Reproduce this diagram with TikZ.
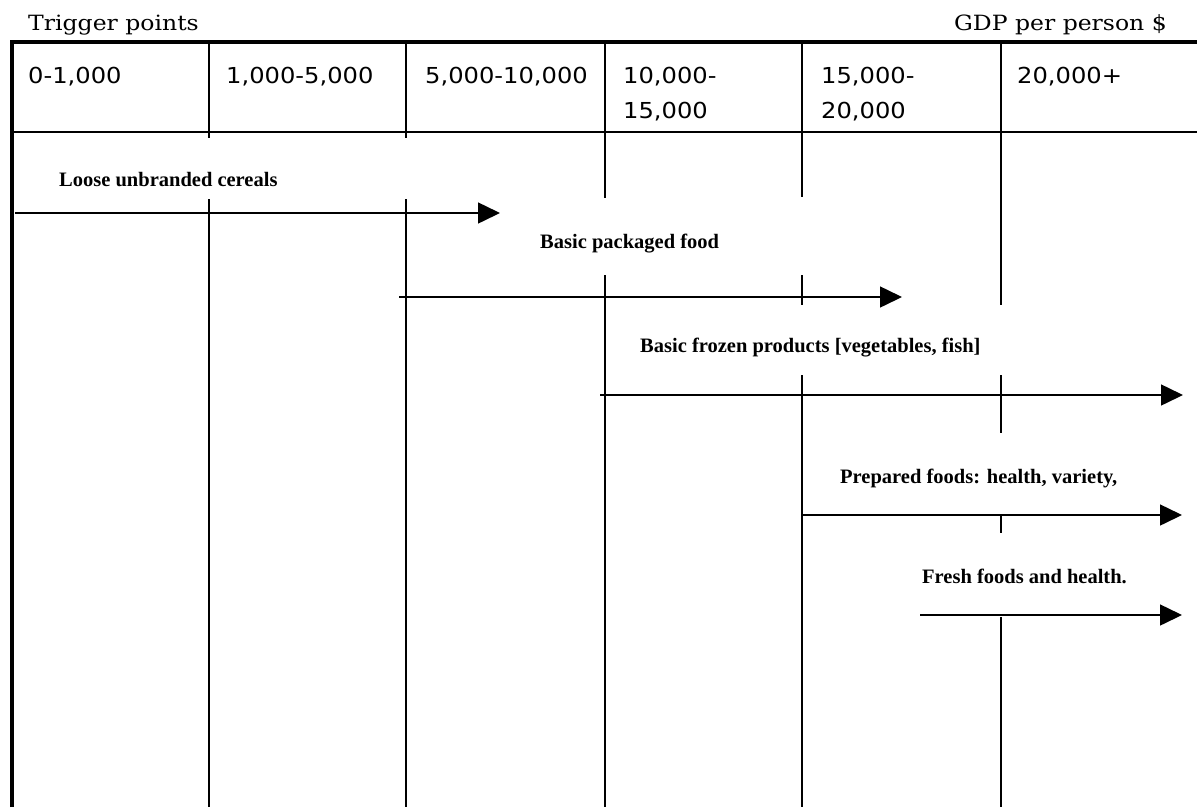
\documentclass[tikz,border=0pt]{standalone}
\usepackage{fontspec}
\setmainfont{Liberation Serif}
\newfontfamily\hdrfont[FakeStretch=1.1]{DejaVu Sans}
\newfontfamily\ttlfont[FakeStretch=1.12]{DejaVu Serif}
\usetikzlibrary{arrows.meta}
\begin{document}
\begin{tikzpicture}[x=1pt,y=-1pt,
  grid/.style={line width=1.5pt, black},
  frame/.style={line width=3.5pt, black},
  flow/.style={line width=1.5pt, -{Triangle[length=22pt,width=21pt]}},
  hdr/.style={anchor=north west, inner sep=0pt, align=left, font=\hdrfont\fontsize{22}{35}\selectfont},
  ttl/.style={inner sep=0pt, font=\ttlfont\fontsize{21}{25}\selectfont},
  lbl/.style={anchor=base west, inner sep=0pt, font=\bfseries\fontsize{20.5}{24}\selectfont},
]
\useasboundingbox (0,0) rectangle (1197,807);

% titles
\node[ttl, anchor=base west] (trig) at (28,30) {Trigger points};
\node[ttl, anchor=base east] (gdp) at (1167,30) {GDP per person \$};

% frame
\draw[frame] (12,807) -- (12,42) -- (1197,42);
\draw[grid] (12,132) -- (1197,132);

% column lines
\draw[grid] (209,42) -- (209,138) (209,199) -- (209,807);
\draw[grid] (406,42) -- (406,138) (406,199) -- (406,807);
\draw[grid] (605,42) -- (605,198) (605,275) -- (605,807);
\draw[grid] (802,42) -- (802,197) (802,275) -- (802,305) (802,375) -- (802,807);
\draw[grid] (1001,42) -- (1001,305) (1001,375) -- (1001,433) (1001,515) -- (1001,533) (1001,617) -- (1001,807);

% header cells
\node[hdr] (c1) at (28,67) {0-1,000};
\node[hdr] (c2) at (226,67) {1,000-5,000};
\node[hdr] (c3) at (425,67) {5,000-10,000};
\node[hdr] (c4) at (623,67) {10,000-\\15,000};
\node[hdr] (c5) at (821,67) {15,000-\\20,000};
\node[hdr] (c6) at (1017,67) {20,000+};

% labels
\node[lbl] (l1) at (59,186) {Loose unbranded cereals};
\node[lbl] (l2) at (540,248) {Basic packaged food};
\node[lbl] (l3) at (640,352) {Basic frozen products [vegetables, fish]};
\node[lbl] (l4) at (840,483) {Prepared foods: health, variety,};
\node[lbl] (l5) at (922,583) {Fresh foods and health.};

% arrow ends
\coordinate (s1) at (15,213);  \coordinate (e1) at (500,213);
\coordinate (s2) at (399,297); \coordinate (e2) at (902,297);
\coordinate (s3) at (600,395); \coordinate (e3) at (1183,395);
\coordinate (s4) at (801,515); \coordinate (e4) at (1182,515);
\coordinate (s5) at (920,615); \coordinate (e5) at (1182,615);

\draw[flow] (s1) -- (e1);
\draw[flow] (s2) -- (e2);
\draw[flow] (s3) -- (e3);
\draw[flow] (s4) -- (e4);
\draw[flow] (s5) -- (e5);
\end{tikzpicture}
\end{document}
